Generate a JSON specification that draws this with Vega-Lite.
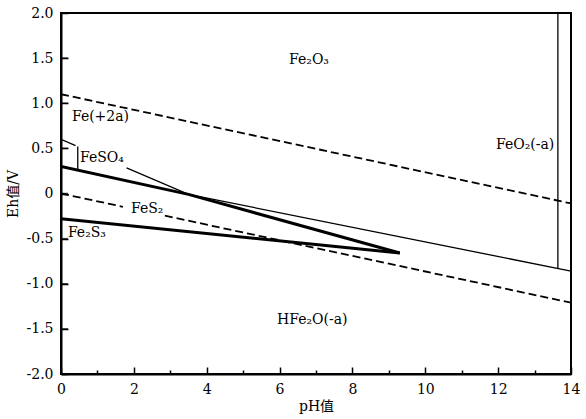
{
  "$schema": "https://vega.github.io/schema/vega-lite/v6.json",
  "autosize": {"type": "none"},
  "padding": {"left": 61, "top": 13, "right": 15, "bottom": 45},
  "width": 510,
  "height": 361,
  "background": "white",
  "config": {
    "view": {"stroke": "black", "strokeWidth": 2},
    "axis": {
      "grid": false,
      "zindex": 1,
      "domainColor": "black",
      "domainWidth": 2,
      "tickColor": "black",
      "labelColor": "black",
      "titleColor": "black",
      "labelFont": "DejaVu Serif",
      "labelFontSize": 14,
      "titleFont": "DejaVu Serif, Noto Sans CJK SC",
      "titleFontSize": 14,
      "titleFontWeight": "normal",
      "labelFlush": false,
      "labelOverlap": false
    }
  },
  "datasets": {
    "boundaries": [
      {"kind": "water", "seg": "w1", "seq": 1, "pH": 0, "Eh": 1.10},
      {"kind": "water", "seg": "w1", "seq": 2, "pH": 14, "Eh": -0.11},
      {"kind": "water", "seg": "w2a", "seq": 1, "pH": 0, "Eh": 0.0},
      {"kind": "water", "seg": "w2a", "seq": 2, "pH": 1.70, "Eh": -0.147},
      {"kind": "water", "seg": "w2b", "seq": 1, "pH": 2.85, "Eh": -0.246},
      {"kind": "water", "seg": "w2b", "seq": 2, "pH": 14, "Eh": -1.21},
      {"kind": "thin", "seg": "t1a", "seq": 1, "pH": 0, "Eh": 0.60},
      {"kind": "thin", "seg": "t1a", "seq": 2, "pH": 0.40, "Eh": 0.53},
      {"kind": "thin", "seg": "t1b", "seq": 1, "pH": 1.80, "Eh": 0.285},
      {"kind": "thin", "seg": "t1b", "seq": 2, "pH": 3.50, "Eh": -0.01},
      {"kind": "thin", "seg": "t1b", "seq": 3, "pH": 14, "Eh": -0.86},
      {"kind": "thin", "seg": "t2", "seq": 1, "pH": 13.64, "Eh": 2.0},
      {"kind": "thin", "seg": "t2", "seq": 2, "pH": 13.64, "Eh": -0.83},
      {"kind": "thin", "seg": "t3", "seq": 1, "pH": 0.46, "Eh": 0.52},
      {"kind": "thin", "seg": "t3", "seq": 2, "pH": 0.46, "Eh": 0.26},
      {"kind": "thick", "seg": "k1", "seq": 1, "pH": 0, "Eh": 0.30},
      {"kind": "thick", "seg": "k1", "seq": 2, "pH": 3.50, "Eh": -0.01},
      {"kind": "thick", "seg": "k1", "seq": 3, "pH": 9.30, "Eh": -0.66},
      {"kind": "thick", "seg": "k2", "seq": 1, "pH": 0, "Eh": -0.28},
      {"kind": "thick", "seg": "k2", "seq": 2, "pH": 9.30, "Eh": -0.66}
    ],
    "fields": [
      {"name": "Fe₂O₃", "pH": 6.26, "Eh": 1.48},
      {"name": "Fe(+2a)", "pH": 0.30, "Eh": 0.85},
      {"name": "FeSO₄", "pH": 0.52, "Eh": 0.39},
      {"name": "FeS₂", "pH": 1.92, "Eh": -0.17},
      {"name": "Fe₂S₃", "pH": 0.19, "Eh": -0.44},
      {"name": "HFe₂O(-a)", "pH": 5.93, "Eh": -1.40},
      {"name": "FeO₂(-a)", "pH": 11.94, "Eh": 0.54}
    ],
    "ehTicks": [
      {"Eh": -1.5}, {"Eh": -1.0}, {"Eh": -0.5}, {"Eh": 0.0},
      {"Eh": 0.5}, {"Eh": 1.0}, {"Eh": 1.5}
    ]
  },
  "resolve": {"axis": {"x": "independent"}},
  "layer": [
    {
      "data": {"name": "boundaries"},
      "transform": [{"filter": "datum.kind === 'water'"}],
      "mark": {"type": "line", "color": "black", "strokeWidth": 1.8, "strokeDash": [8, 4], "clip": true},
      "encoding": {
        "x": {
          "field": "pH", "type": "quantitative",
          "scale": {"domain": [0, 14], "nice": false},
          "axis": {
            "orient": "bottom",
            "values": [0, 2, 4, 6, 8, 10, 12, 14],
            "tickSize": -7, "tickWidth": 1.5, "tickColor": "black", "ticks": true,
            "labelPadding": 15,
            "title": "pH值", "titlePadding": 3
          }
        },
        "y": {
          "field": "Eh", "type": "quantitative",
          "scale": {"domain": [-2, 2], "nice": false},
          "axis": {
            "values": [-2, -1.5, -1, -0.5, 0, 0.5, 1, 1.5, 2],
            "tickSize": -7, "tickWidth": 1.5, "tickColor": "black", "ticks": true,
            "labelPadding": 15,
            "labelExpr": "datum.value == 0 ? '0' : (datum.value < 0 ? '-' + format(-datum.value, '.1f') : format(datum.value, '.1f'))",
            "title": "Eh值/V", "titlePadding": 6
          }
        },
        "detail": {"field": "seg"},
        "order": {"field": "seq"}
      }
    },
    {
      "data": {"name": "boundaries"},
      "transform": [{"filter": "datum.kind === 'thin'"}],
      "mark": {"type": "line", "color": "black", "strokeWidth": 1.3, "clip": true},
      "encoding": {
        "x": {"field": "pH", "type": "quantitative", "axis": null},
        "y": {"field": "Eh", "type": "quantitative"},
        "detail": {"field": "seg"},
        "order": {"field": "seq"}
      }
    },
    {
      "data": {"name": "boundaries"},
      "transform": [{"filter": "datum.kind === 'thick'"}],
      "mark": {"type": "line", "color": "black", "strokeWidth": 3, "clip": true},
      "encoding": {
        "x": {"field": "pH", "type": "quantitative", "axis": null},
        "y": {"field": "Eh", "type": "quantitative"},
        "detail": {"field": "seg"},
        "order": {"field": "seq"}
      }
    },
    {
      "data": {"name": "ehTicks"},
      "mark": {"type": "tick", "orient": "horizontal", "size": 7, "thickness": 1.5, "color": "black", "xOffset": 3.5},
      "encoding": {
        "x": {"datum": 0, "type": "quantitative", "axis": null},
        "y": {"field": "Eh", "type": "quantitative"}
      }
    },
    {
      "data": {"name": "fields"},
      "mark": {"type": "text", "align": "left", "baseline": "middle", "font": "DejaVu Serif", "fontSize": 14, "color": "black"},
      "encoding": {
        "x": {
          "field": "pH", "type": "quantitative",
          "axis": {
            "orient": "bottom",
            "values": [1, 3, 5, 7, 9, 11, 13],
            "tickSize": -4, "tickWidth": 1.5, "tickColor": "black", "ticks": true,
            "labels": false, "domain": false, "title": null
          }
        },
        "y": {"field": "Eh", "type": "quantitative"},
        "text": {"field": "name"}
      }
    }
  ]
}
